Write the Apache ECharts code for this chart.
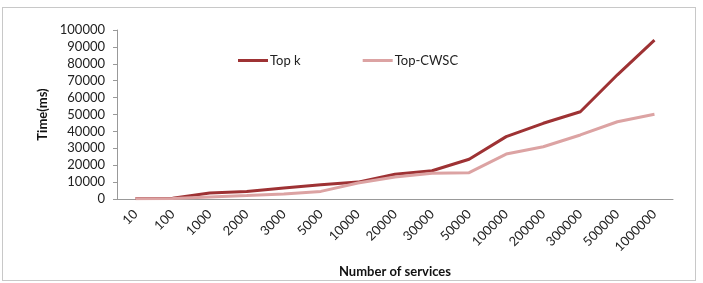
<!DOCTYPE html>
<html>
<head>
<meta charset="utf-8">
<script src="https://cdn.jsdelivr.net/npm/echarts@6/dist/echarts.min.js"></script>
<style>
  html, body { margin: 0; padding: 0; background: #fff; }
  #frame { position: absolute; left: 2px; top: 7px; width: 692px; height: 272px; border: 1px solid #c8c8c8; }
  #chart { width: 703px; height: 283px; }
</style>
</head>
<body>
<div id="frame"></div>
<div id="chart"></div>
<script>
var categories = ['10', '100', '1000', '2000', '3000', '5000', '10000', '20000', '30000', '50000', '100000', '200000', '300000', '500000', '1000000']
var topK = [300, 500, 3500, 4500, 6500, 8500, 10000, 14600, 16700, 23500, 36900, 44800, 51600, 73500, 94000]
var topCWSC = [200, 300, 1200, 2000, 3000, 4500, 9500, 13000, 15200, 15600, 26600, 30900, 37900, 45700, 50100]
var seriesNames = ['Top k', 'Top-CWSC']
var colorList = ['#9e3234', '#dca3a3']

var myChart = echarts.init(document.getElementById('chart'))
var labelFont = { color: '#222', fontFamily: 'Lato', fontSize: 13 }
var option = {
  color: colorList,
  animation: false,
  legend: {
    data: seriesNames,
    left: 233,
    top: 49,
    itemGap: 62,
    itemWidth: 30,
    itemHeight: 3,
    icon: 'rect',
    textStyle: { color: '#222', fontFamily: 'Lato', fontSize: 13, padding: [0, 0, 0, -3] }
  },
  grid: { left: 117, right: 30, top: 30, bottom: 84 },
  xAxis: {
    type: 'category',
    boundaryGap: true,
    data: categories,
    name: 'Number of services',
    nameLocation: 'middle',
    nameGap: 66,
    nameTextStyle: { color: '#111', fontFamily: 'Lato', fontWeight: 'bold', fontSize: 13 },
    axisLine: { lineStyle: { color: '#999' } },
    axisTick: { show: false },
    axisLabel: Object.assign({ rotate: 45, interval: 0, margin: 13 }, labelFont)
  },
  yAxis: {
    type: 'value',
    min: 0,
    max: 100000,
    interval: 10000,
    name: 'Time(ms)',
    nameLocation: 'middle',
    nameGap: 68,
    nameTextStyle: { color: '#111', fontFamily: 'Lato', fontWeight: 'bold', fontSize: 13 },
    axisLine: { show: true, lineStyle: { color: '#999' } },
    axisTick: { show: true, length: 4, lineStyle: { color: '#999' } },
    axisLabel: Object.assign({ margin: 12, formatter: function (v) { return String(v) } }, labelFont),
    splitLine: { show: false }
  },
  series: []
}
var allData = [topK, topCWSC]
for (var i = 0; i < allData.length; i++) {
  option.series[i] = {
    name: seriesNames[i],
    type: 'line',
    symbol: 'none',
    lineStyle: { width: 3 },
    data: allData[i]
  }
}
myChart.setOption(option)
</script>
</body>
</html>
